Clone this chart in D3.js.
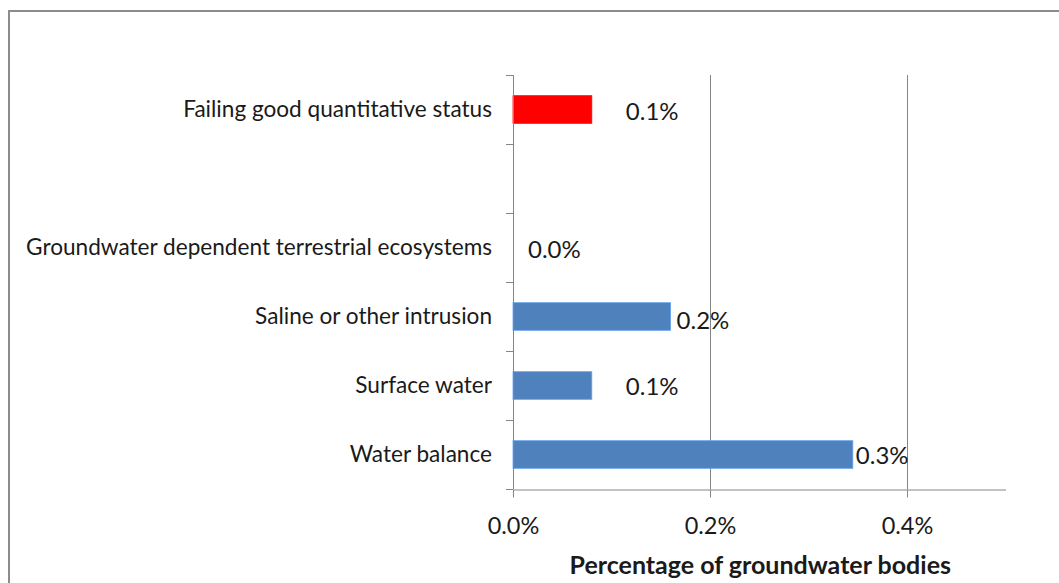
<!DOCTYPE html>
<html>
<head>
<meta charset="utf-8">
<script src="https://cdn.jsdelivr.net/npm/d3@7"></script>
<style>
  html, body { margin: 0; padding: 0; background: #ffffff; }
  svg { display: block; }
  text { font-family: Lato, "Open Sans", sans-serif; fill: #1a1a1a; }
</style>
</head>
<body>
<svg id="chart" width="1059" height="583"></svg>
<script>
// ---- data (top to bottom) ----
const categories = [
  "Failing good quantitative status",
  "",
  "Groundwater dependent terrestrial ecosystems",
  "Saline or other intrusion",
  "Surface water",
  "Water balance"
];
const values = [0.08, null, 0.0, 0.16, 0.08, 0.345];          // percent of groundwater bodies
const valueLabels = ["0.1%", "", "0.0%", "0.2%", "0.1%", "0.3%"];
const xTickValues = [0, 0.2, 0.4];
const xTickLabels = ["0.0%", "0.2%", "0.4%"];
const xAxisTitle = "Percentage of groundwater bodies";

// ---- style / layout ----
const barColors = ["#ff0000", null, "#4f81bd", "#4f81bd", "#4f81bd", "#4f81bd"];
const labelDx = [34, 0, 15, 6, 34, 3];
const labelDy = [2, 0, 2, 4, 1, 1];
const gridColor = "#868686";

const svg = d3.select("#chart");

// outer chart border
svg.append("rect")
  .attr("x", 9).attr("y", 11)
  .attr("width", 1070).attr("height", 600)
  .attr("fill", "none")
  .attr("stroke", "#8c8c8c")
  .attr("stroke-width", 2);

const plot = { left: 513, right: 1005.5, top: 75, bottom: 489 };

const x = d3.scaleLinear().domain([0, 0.5]).range([plot.left, plot.right]);
const y = d3.scaleBand()
  .domain(d3.range(categories.length))
  .range([plot.top, plot.bottom])
  .paddingInner(0.6)
  .paddingOuter(0.3);

// vertical gridlines
svg.append("g").selectAll("line")
  .data(xTickValues.filter(v => v > 0))
  .join("line")
  .attr("x1", d => Math.round(x(d)) + 0.5).attr("x2", d => Math.round(x(d)) + 0.5)
  .attr("y1", plot.top).attr("y2", plot.bottom)
  .attr("stroke", gridColor).attr("stroke-width", 1);

// bars
svg.append("g").selectAll("rect")
  .data(values.map((v, i) => ({ v, i })).filter(d => d.v !== null && d.v > 0))
  .join("rect")
  .attr("x", x(0))
  .attr("y", d => y(d.i))
  .attr("width", d => x(d.v) - x(0))
  .attr("height", y.bandwidth())
  .attr("fill", d => barColors[d.i])
  .attr("stroke", d => d3.color(barColors[d.i]).brighter(0.6))
  .attr("stroke-width", 0.8);

// y axis line and tick marks at category boundaries
const step = y.step();
const yStart = y(0) - step * y.paddingInner() / 2;
const boundaries = d3.range(categories.length + 1).map(k => yStart + k * step);
const yAxisG = svg.append("g");
yAxisG.append("line")
  .attr("x1", x(0) + 0.5).attr("x2", x(0) + 0.5)
  .attr("y1", plot.top).attr("y2", plot.bottom)
  .attr("stroke", gridColor);
yAxisG.selectAll("line.tk")
  .data(boundaries)
  .join("line").attr("class", "tk")
  .attr("x1", x(0) - 7).attr("x2", x(0))
  .attr("y1", d => Math.round(d) + 0.5).attr("y2", d => Math.round(d) + 0.5)
  .attr("stroke", gridColor);

// category labels
svg.append("g").selectAll("text")
  .data(categories.map((c, i) => ({ c, i })).filter(d => d.c))
  .join("text")
  .attr("x", 492)
  .attr("y", d => y(d.i) + y.bandwidth() / 2)
  .attr("dy", "0.35em")
  .attr("text-anchor", "end")
  .attr("font-size", 22.6)
  .text(d => d.c);

// value labels
svg.append("g").selectAll("text")
  .data(valueLabels.map((l, i) => ({ l, i })).filter(d => d.l))
  .join("text")
  .attr("x", d => x(values[d.i]) + labelDx[d.i])
  .attr("y", d => y(d.i) + y.bandwidth() / 2 + labelDy[d.i])
  .attr("dy", "0.35em")
  .attr("font-size", 24)
  .text(d => d.l);

// x axis
const xAxis = d3.axisBottom(x)
  .tickValues(xTickValues)
  .tickFormat((d, i) => xTickLabels[i])
  .tickSizeInner(8)
  .tickSizeOuter(0)
  .tickPadding(20);
const xg = svg.append("g")
  .attr("transform", `translate(0,${plot.bottom + 0.5})`)
  .call(xAxis);
xg.select(".domain").attr("stroke", gridColor);
xg.selectAll(".tick line").attr("stroke", gridColor);
xg.selectAll(".tick text")
  .attr("font-size", 23.5)
  .attr("font-family", "Lato, sans-serif")
  .attr("fill", "#1a1a1a");

// x axis title
svg.append("text")
  .attr("x", (plot.left + plot.right) / 2 + 1)
  .attr("y", 574)
  .attr("text-anchor", "middle")
  .attr("font-size", 25)
  .attr("font-weight", "bold")
  .text(xAxisTitle);
</script>
</body>
</html>
